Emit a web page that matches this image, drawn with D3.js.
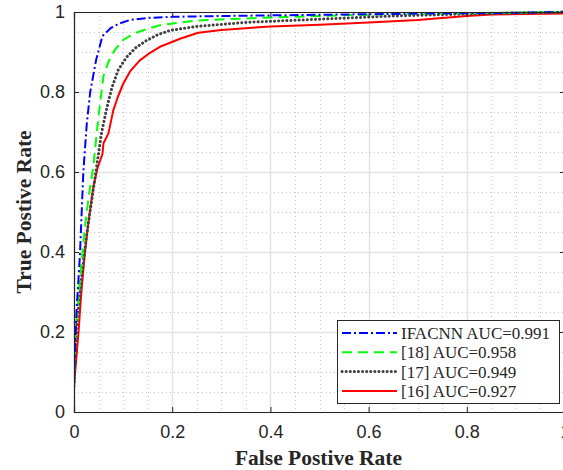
<!DOCTYPE html>
<html>
<head>
<meta charset="utf-8">
<script src="https://cdn.jsdelivr.net/npm/d3@7"></script>
<style>
  body { margin: 0; background: #fff; }
  svg { display: block; }
</style>
</head>
<body>
<div id="roc_chart"></div>
<script>
// ROC curves, points as [false positive rate, true positive rate]
var ifacnn = [[0,0.065],[0.002,0.15],[0.005,0.25],[0.012,0.39],[0.019,0.6],[0.026,0.72],[0.033,0.8],
  [0.045,0.88],[0.058,0.94],[0.075,0.96],[0.09,0.97],[0.114,0.98],[0.15,0.985],[0.2,0.988],
  [0.3,0.99],[0.5,0.993],[0.7,0.996],[0.9,0.998],[1,1]];
var ref18 = [[0,0.065],[0.003,0.2],[0.012,0.33],[0.022,0.46],[0.03,0.54],[0.039,0.61],[0.05,0.74],
  [0.06,0.84],[0.07,0.875],[0.083,0.905],[0.1,0.93],[0.121,0.946],[0.15,0.958],[0.175,0.967],
  [0.243,0.978],[0.35,0.984],[0.5,0.99],[0.65,0.995],[0.8,0.997],[1,1]];
var ref17 = [[0,0.065],[0.004,0.2],[0.015,0.33],[0.026,0.445],[0.043,0.587],[0.056,0.697],[0.065,0.75],
  [0.077,0.81],[0.09,0.855],[0.107,0.887],[0.125,0.91],[0.148,0.929],[0.17,0.943],[0.196,0.954],
  [0.25,0.964],[0.35,0.974],[0.5,0.982],[0.65,0.99],[0.8,0.995],[1,1]];
var ref16 = [[0,0.065],[0.009,0.197],[0.015,0.3],[0.022,0.396],[0.03,0.48],[0.039,0.56],[0.048,0.61],
  [0.058,0.645],[0.06,0.672],[0.07,0.696],[0.08,0.754],[0.09,0.79],[0.1,0.82],[0.115,0.853],
  [0.134,0.879],[0.155,0.898],[0.175,0.913],[0.216,0.933],[0.253,0.948],[0.3,0.955],[0.4,0.964],
  [0.5,0.968],[0.6,0.974],[0.7,0.98],[0.8,0.99],[0.85,0.994],[1,0.996]];

var seriesNames = ["IFACNN AUC=0.991", "[18] AUC=0.958", "[17] AUC=0.949", "[16] AUC=0.927"];
var xTicks = [0, 0.2, 0.4, 0.6, 0.8, 1];
var yTicks = [0, 0.2, 0.4, 0.6, 0.8, 1];

var width = 563, height = 470,
    margin = {top: 12, left: 74},
    plotW = 491, plotH = 400,
    ink = "#262626";

var styles = [
  {color: "#0000ff", dash: "9,3,2,3", width: 2, cap: "butt"},
  {color: "#00ff00", dash: "10,6", width: 2, cap: "butt"},
  {color: "#404040", dash: "0.1,4", width: 3, cap: "round"},
  {color: "#ff0000", dash: null, width: 2, cap: "butt"}
];

var svg = d3.select("#roc_chart").append("svg")
  .attr("width", width)
  .attr("height", height);

var x = d3.scaleLinear().domain([0, 1]).range([0, plotW]);
var y = d3.scaleLinear().domain([0, 1]).range([plotH, 0]);

var g = svg.append("g")
  .attr("transform", "translate(" + margin.left + "," + margin.top + ")");

// minor grid (dotted)
var minor = d3.range(0, 1.0001, 0.05).filter(function(v) { return Math.round(v * 100) % 20 !== 0; });
g.append("g").selectAll("line.mx").data(minor).enter().append("line")
  .attr("x1", function(d) { return Math.round(x(d)) + 0.5; })
  .attr("x2", function(d) { return Math.round(x(d)) + 0.5; })
  .attr("y1", 0).attr("y2", plotH)
  .attr("stroke", "#c8c8c8").attr("stroke-dasharray", "1,3");
g.append("g").selectAll("line.my").data(minor).enter().append("line")
  .attr("y1", function(d) { return Math.round(y(d)) + 0.5; })
  .attr("y2", function(d) { return Math.round(y(d)) + 0.5; })
  .attr("x1", 0).attr("x2", plotW)
  .attr("stroke", "#c8c8c8").attr("stroke-dasharray", "1,3");

// major grid
g.append("g").selectAll("line").data(xTicks).enter().append("line")
  .attr("x1", function(d) { return Math.round(x(d)) + 0.5; })
  .attr("x2", function(d) { return Math.round(x(d)) + 0.5; })
  .attr("y1", 0).attr("y2", plotH)
  .attr("stroke", "#e3e3e3").attr("stroke-width", 1.5);
g.append("g").selectAll("line").data(yTicks).enter().append("line")
  .attr("y1", function(d) { return Math.round(y(d)) + 0.5; })
  .attr("y2", function(d) { return Math.round(y(d)) + 0.5; })
  .attr("x1", 0).attr("x2", plotW)
  .attr("stroke", "#e3e3e3").attr("stroke-width", 1.5);

// curves
svg.append("clipPath").attr("id", "clip")
  .append("rect").attr("x", 0).attr("y", -2).attr("width", plotW).attr("height", plotH + 2);

var line = d3.line()
  .x(function(d) { return x(d[0]); })
  .y(function(d) { return y(d[1]); });

var curves = [ifacnn, ref18, ref17, ref16];
var plot = g.append("g").attr("clip-path", "url(#clip)");
// draw red first so blue sits on top
[3, 2, 1, 0].forEach(function(i) {
  plot.append("path")
    .datum(curves[i])
    .attr("d", line)
    .attr("fill", "none")
    .attr("stroke", styles[i].color)
    .attr("stroke-width", styles[i].width)
    .attr("stroke-linecap", styles[i].cap)
    .attr("stroke-linejoin", "round")
    .attr("stroke-dasharray", styles[i].dash);
});

// axes
var xAxis = g.append("g")
  .attr("transform", "translate(0," + plotH + ")")
  .call(d3.axisBottom(x).tickValues(xTicks).tickFormat(d3.format("")).tickSize(-5).tickPadding(13));
var yAxis = g.append("g")
  .call(d3.axisLeft(y).tickValues(yTicks).tickFormat(d3.format("")).tickSize(-5).tickPadding(9));
g.append("g")
  .call(d3.axisTop(x).tickValues(xTicks).tickFormat("").tickSize(-5));
g.append("g")
  .attr("transform", "translate(" + plotW + ",0)")
  .call(d3.axisRight(y).tickValues(yTicks).tickFormat("").tickSize(-5));

g.selectAll(".domain").attr("stroke", ink).attr("stroke-width", 1.2);
g.selectAll(".tick line").attr("stroke", ink);
g.selectAll(".tick text")
  .attr("fill", ink)
  .style("font-family", "'Liberation Sans', Arial, sans-serif")
  .style("font-size", "18px");

// axis titles
svg.append("text")
  .attr("x", margin.left + plotW / 2 - 1)
  .attr("y", 465)
  .attr("text-anchor", "middle")
  .attr("fill", ink)
  .style("font-family", "'Liberation Serif', 'Times New Roman', serif")
  .style("font-weight", "bold")
  .style("font-size", "21.5px")
  .text("False Postive Rate");

svg.append("text")
  .attr("transform", "translate(31," + (margin.top + plotH / 2) + ") rotate(-90)")
  .attr("text-anchor", "middle")
  .attr("fill", ink)
  .style("font-family", "'Liberation Serif', 'Times New Roman', serif")
  .style("font-weight", "bold")
  .style("font-size", "21.5px")
  .text("True Postive Rate");

// legend
var legend = svg.append("g").attr("transform", "translate(337,320)");
legend.append("rect")
  .attr("x", 0.5).attr("y", 0.5)
  .attr("width", 222).attr("height", 83)
  .attr("fill", "#fff")
  .attr("stroke", ink)
  .attr("stroke-width", 1);

var item = legend.selectAll(".item")
  .data(seriesNames)
  .enter().append("g")
  .attr("class", "item")
  .attr("transform", function(d, i) { return "translate(0," + (13 + i * 19.3) + ")"; });

item.append("line")
  .attr("x1", 5).attr("x2", 60)
  .attr("y1", 0).attr("y2", 0)
  .attr("stroke", function(d, i) { return styles[i].color; })
  .attr("stroke-width", function(d, i) { return styles[i].width; })
  .attr("stroke-linecap", function(d, i) { return styles[i].cap; })
  .attr("stroke-dasharray", function(d, i) { return styles[i].dash; });

item.append("text")
  .attr("x", 64)
  .attr("y", 6)
  .attr("fill", ink)
  .style("font-family", "'Liberation Serif', 'Times New Roman', serif")
  .style("font-size", "17px")
  .text(function(d) { return d; });
</script>
</body>
</html>
